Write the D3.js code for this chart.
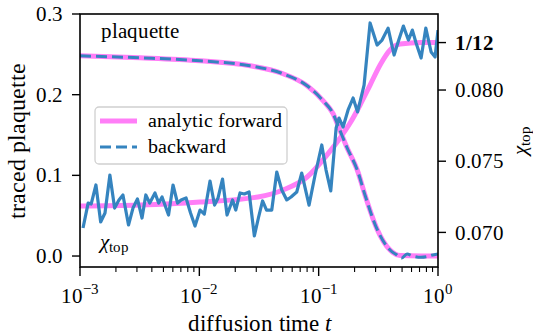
<!DOCTYPE html>
<html><head><meta charset="utf-8">
<style>
@font-face { font-family: "ChartSerif"; src: local("Liberation Serif"), local("LiberationSerif"), local("Liberation Serif Regular"), local("LiberationSerif-Regular"); font-weight: normal; font-style: normal; }
@font-face { font-family: "ChartSerif"; src: local("Liberation Serif Bold"), local("LiberationSerif-Bold"); font-weight: bold; font-style: normal; }
@font-face { font-family: "ChartSerif"; src: local("Liberation Serif Italic"), local("LiberationSerif-Italic"); font-weight: normal; font-style: italic; }
</style>
<script src="https://cdn.jsdelivr.net/npm/d3@7"></script>
</head><body style="margin:0"><svg id="c" width="533" height="336" style="background:#fff"></svg>
<script>
// ---- data ----
const plaqT = [0.001,0.00318,0.0101,0.0266,0.0503,0.080,0.1088,0.132,0.1454,0.1697,0.214,0.2448,0.3087,0.3966,0.481,0.722,1.0];
const plaqForward = [0.2481,0.2457,0.2420,0.2358,0.2259,0.2111,0.1926,0.1765,0.1617,0.1370,0.1037,0.0753,0.0333,0.0074,0.0006,0.0,0.0];
const plaqBackT = [0.001,0.00318,0.0101,0.0266,0.0503,0.080,0.1088,0.132,0.1454,0.1697,0.214,0.2448,0.3087,0.3966,0.454,0.495,0.55,0.613,0.72,0.81,0.88,1.0];
const plaqBackward = [0.2481,0.2457,0.2420,0.2358,0.2259,0.2111,0.1926,0.1765,0.1617,0.1370,0.1037,0.0753,0.0333,0.0074,0.0012,-0.0025,0.0025,0.0,-0.0016,-0.0008,0.0009,0.0025];
const chiT = [0.001,0.00318,0.0101,0.0310,0.0503,0.080,0.1176,0.1512,0.1834,0.2224,0.2697,0.3271,0.3966,0.481,0.722,1.0];
const chiForward = [0.07185,0.07192,0.07213,0.07249,0.07298,0.07389,0.07544,0.07663,0.07768,0.07895,0.08035,0.08176,0.08281,0.08323,0.08334,0.08334];
const chiBackT = [0.00106,0.00117,0.00124,0.00136,0.00149,0.00162,0.00178,0.00195,0.00212,0.00229,0.00255,0.00278,0.00303,0.00331,0.00356,0.00384,0.00425,0.00457,0.00487,0.00552,0.00602,0.00657,0.00703,0.00774,0.00844,0.00920,0.01014,0.01101,0.01229,0.01341,0.01435,0.01564,0.01707,0.01898,0.02019,0.02194,0.02384,0.02611,0.02891,0.03125,0.03388,0.03658,0.04045,0.04456,0.04907,0.05404,0.05871,0.06551,0.07214,0.08306,0.09330,0.1062,0.1153,0.1263,0.1400,0.1483,0.1602,0.1764,0.1943,0.2119,0.2402,0.2697,0.3087,0.3399,0.3817,0.4285,0.4632,0.5129,0.5649,0.6100,0.6551,0.7218,0.7906,0.8755,0.9456,1.0];
const chiBackward = [0.07031,0.07206,0.07199,0.07333,0.07073,0.07136,0.07403,0.07171,0.07228,0.07263,0.07052,0.07171,0.07235,0.07101,0.07263,0.07206,0.07277,0.07206,0.07249,0.07122,0.07333,0.07206,0.07228,0.07242,0.07136,0.07045,0.07157,0.07129,0.07361,0.07192,0.07242,0.07375,0.07122,0.07228,0.07157,0.07277,0.07270,0.07284,0.06975,0.07101,0.07221,0.07157,0.07157,0.07424,0.07298,0.07228,0.07249,0.07284,0.07417,0.07192,0.07403,0.07614,0.07438,0.07291,0.07733,0.07803,0.07740,0.07860,0.07944,0.07846,0.08035,0.08471,0.08316,0.08351,0.08435,0.08246,0.08337,0.08449,0.08351,0.08421,0.08330,0.08225,0.08435,0.08267,0.08232,0.08421];
const leftTicks = [0.0,0.1,0.2,0.3];
const leftTickLabels = ["0.0","0.1","0.2","0.3"];
const rightTicks = [0.070,0.075,0.080,1/12];
const rightTickLabels = ["0.070","0.075","0.080","1/12"];
const xMajor = [1e-3,1e-2,1e-1,1];
const xMajorExp = ["\u22123","\u22122","\u22121","0"];
const legendLabels = ["analytic forward","backward"];

// ---- layout ----
const FONT = "ChartSerif, Liberation Serif, serif";
const svg = d3.select("#c");
const L=80, T=14, W=358, H=253;
const pink="#ff7ef7", blue="#3584bf";
const FS=21;
const x = d3.scaleLog().domain([1e-3,1]).range([L,L+W]);
const yL = d3.scaleLinear().domain([-0.0136,0.3]).range([T+H,T]);
const yR = d3.scaleLinear().domain([0.06757,0.08534]).range([T+H,T]);
const txt = (sel, size)=>sel.append("text").attr("font-family",FONT).attr("font-size",size);

svg.append("clipPath").attr("id","clip").append("rect").attr("x",L).attr("y",T).attr("width",W).attr("height",H);
const g = svg.append("g").attr("clip-path","url(#clip)");

const mk = (ys)=>d3.line().x(d=>x(d[0])).y(d=>ys(d[1])).curve(d3.curveMonotoneX);
const lin = (ys)=>d3.line().x(d=>x(d[0])).y(d=>ys(d[1]));

g.append("path").attr("d",mk(yL)(d3.zip(plaqT,plaqForward))).attr("fill","none").attr("stroke",pink).attr("stroke-width",5);
g.append("path").attr("d",mk(yR)(d3.zip(chiT,chiForward))).attr("fill","none").attr("stroke",pink).attr("stroke-width",5);
g.append("path").attr("d",mk(yL)(d3.zip(plaqBackT,plaqBackward))).attr("fill","none").attr("stroke",blue).attr("stroke-width",3).attr("stroke-dasharray","11,5");
g.append("path").attr("d",lin(yR)(d3.zip(chiBackT,chiBackward))).attr("fill","none").attr("stroke",blue).attr("stroke-width",3.2).attr("stroke-linejoin","round");

// frame
svg.append("rect").attr("x",L).attr("y",T).attr("width",W).attr("height",H).attr("fill","none").attr("stroke","#000").attr("stroke-width",1.6);

// x axis ticks
const xAxis = svg.append("g");
xMajor.forEach((v,i)=>{
  const px=x(v);
  xAxis.append("line").attr("x1",px).attr("x2",px).attr("y1",T+H).attr("y2",T+H+9).attr("stroke","#000").attr("stroke-width",1.4);
  const t = txt(xAxis,FS).attr("x",px).attr("y",303).attr("text-anchor","middle");
  t.append("tspan").text("10");
  t.append("tspan").attr("font-size",15).attr("dy",-9).text(xMajorExp[i]);
});
for(let d=-3; d<0; d++){
  for(let m=2;m<=9;m++){
    const px=x(m*Math.pow(10,d));
    xAxis.append("line").attr("x1",px).attr("x2",px).attr("y1",T+H).attr("y2",T+H+5).attr("stroke","#000").attr("stroke-width",1.1);
  }
}
const xl = txt(svg,23).attr("x",259).attr("y",331).attr("text-anchor","middle");
xl.append("tspan").text("diffusion time ");
xl.append("tspan").attr("font-style","italic").text("t");

// left axis
leftTicks.forEach((v,i)=>{
  const py=yL(v);
  svg.append("line").attr("x1",L-8).attr("x2",L).attr("y1",py).attr("y2",py).attr("stroke","#000").attr("stroke-width",1.4);
  txt(svg,FS).attr("x",63).attr("y",py).attr("dy","0.34em").attr("text-anchor","end").text(leftTickLabels[i]);
});
txt(svg,24).attr("transform",`translate(25,${T+H/2}) rotate(-90)`).attr("text-anchor","middle").text("traced plaquette");

// right axis
rightTicks.forEach((v,i)=>{
  const py=yR(v);
  svg.append("line").attr("x1",L+W).attr("x2",L+W+8).attr("y1",py).attr("y2",py).attr("stroke","#000").attr("stroke-width",1.4);
  txt(svg,FS).attr("x",455).attr("y",py).attr("dy","0.34em")
    .attr("font-weight",i===3?"bold":"normal").text(rightTickLabels[i]);
});
const rl = txt(svg,FS).attr("transform",`translate(527,${T+H/2}) rotate(-90)`).attr("text-anchor","middle");
rl.append("tspan").attr("font-style","italic").text("\u03c7");
rl.append("tspan").attr("font-size",15).attr("dy",3).text("top");

// annotations
txt(svg,FS).attr("x",101).attr("y",38).text("plaquette");
const ca = txt(svg,FS).attr("x",100).attr("y",249);
ca.append("tspan").attr("font-style","italic").text("\u03c7");
ca.append("tspan").attr("font-size",15).attr("dy",3).text("top");

// legend
const lg = svg.append("g");
lg.append("rect").attr("x",95).attr("y",107).attr("width",192).attr("height",57).attr("rx",4)
  .attr("fill","#fff").attr("fill-opacity",0.8).attr("stroke","#d0d0d0").attr("stroke-width",1.3);
lg.append("line").attr("x1",100).attr("x2",137).attr("y1",121).attr("y2",121).attr("stroke",pink).attr("stroke-width",5);
lg.append("line").attr("x1",100).attr("x2",137).attr("y1",147).attr("y2",147).attr("stroke",blue).attr("stroke-width",3).attr("stroke-dasharray","11,5");
txt(lg,20).attr("x",148).attr("y",127).text(legendLabels[0]);
txt(lg,20).attr("x",148).attr("y",153).text(legendLabels[1]);
</script></body></html>
